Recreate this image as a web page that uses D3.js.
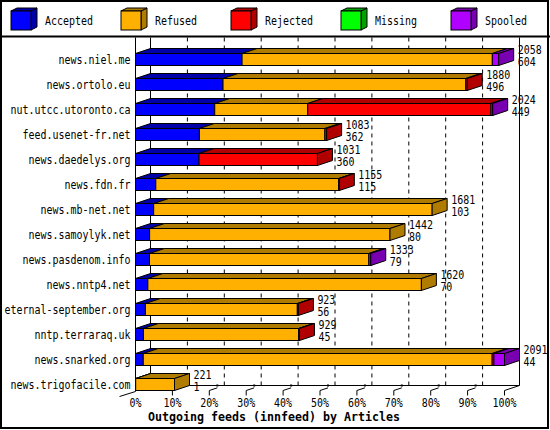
<!DOCTYPE html>
<meta charset="utf-8">
<script src="https://cdn.jsdelivr.net/npm/d3@7/dist/d3.min.js"></script>
<style>
body { margin: 0; background: #fff; }
text {
  fill: #000;
  font-family: "DejaVu Sans Mono", monospace;
  font-size: 11.5px;
}
.title { font-weight: bold; font-size: 12px; }
</style>
<body>
<script>

// feeds, top to bottom
var feeds = ["news.niel.me", "news.ortolo.eu", "nut.utcc.utoronto.ca", "feed.usenet-fr.net",
  "news.daedelys.org", "news.fdn.fr", "news.mb-net.net", "news.samoylyk.net",
  "news.pasdenom.info", "news.nntp4.net", "eternal-september.org", "nntp.terraraq.uk",
  "news.snarked.org", "news.trigofacile.com"];

// articles per feed
var accepted = [604, 496, 449, 362, 360, 115, 103, 80, 79, 70, 56, 45, 44, 1];
var refused  = [1418, 1376, 527, 711, 0, 1036, 1578, 1362, 1243, 1550, 861, 879, 1977, 220];
var rejected = [0, 8, 1038, 10, 671, 4, 0, 0, 0, 0, 6, 5, 10, 0];
var missing  = [0, 0, 0, 0, 0, 0, 0, 0, 0, 0, 0, 0, 0, 0];
var spooled  = [36, 0, 10, 0, 0, 0, 0, 0, 11, 0, 0, 0, 60, 0];

var keys = ["Accepted", "Refused", "Rejected", "Missing", "Spooled"];
var pctTicks = [0, 10, 20, 30, 40, 50, 60, 70, 80, 90, 100];

var front = {Accepted: "#0000ff", Refused: "#ffb000", Rejected: "#ff0000", Missing: "#00ff00", Spooled: "#b000ff"};
var dark  = {Accepted: "#0000a8", Refused: "#b07c00", Rejected: "#b00000", Missing: "#00a000", Spooled: "#7800b0"};

var width = 550, height = 430;
var DX = 15, DY = -5;      // bar depth
var CH = 6;                // char width of the bitmap-like font

var rows = feeds.map(function(f, i) {
  return {feed: f, Accepted: accepted[i], Refused: refused[i], Rejected: rejected[i],
          Missing: missing[i], Spooled: spooled[i]};
});
rows.forEach(function(r) { r.total = d3.sum(keys, function(k) { return r[k]; }); });

var stacked = d3.stack().keys(keys)(rows);

var x = d3.scaleLinear().domain([0, d3.max(rows, function(r) { return r.total; })]).range([135, 504]);
var pct = d3.scaleLinear().domain([0, 100]).range([135, 504]);
var y = d3.scaleBand().domain(feeds).range([46.5, 396.5]).paddingInner(0.52).paddingOuter(0.26);
var bh = y.bandwidth();

var svg = d3.select("body").append("svg")
    .attr("width", width)
    .attr("height", height);

function fitText(sel, w) {
  sel.attr("textLength", function() { return this.textContent.length * w; })
     .attr("lengthAdjust", "spacingAndGlyphs");
}

// frame and legend separator
svg.append("rect").attr("x", 1).attr("y", 1).attr("width", 547).attr("height", 427)
    .attr("fill", "#fff").attr("stroke", "#000").attr("stroke-width", 2);
svg.append("line").attr("x1", 0).attr("x2", 550).attr("y1", 36.5).attr("y2", 36.5)
    .attr("stroke", "#000").attr("stroke-width", 2);

// legend
var leg = svg.append("g").selectAll("g").data(keys).enter().append("g")
    .attr("transform", function(d, i) { return "translate(" + (11 + 110 * i) + ",11)"; });
leg.append("polygon")
    .attr("points", "20,0 26,-3 26,16 20,19")
    .attr("fill", function(d) { return dark[d]; })
    .attr("stroke", "#000");
leg.append("polygon")
    .attr("points", "0,0 6,-3 26,-3 20,0")
    .attr("fill", function(d) { return dark[d]; })
    .attr("stroke", "#000");
leg.append("rect")
    .attr("width", 20).attr("height", 19)
    .attr("fill", function(d) { return front[d]; })
    .attr("stroke", "#000");
leg.append("text")
    .attr("x", 34).attr("y", 14)
    .text(function(d) { return d; })
    .call(fitText, CH);

var plot = svg.append("g").attr("transform", "translate(0.5,0.5)");
var floorY = 390 + DY, topY = 37;

// back wall grid
plot.append("g").selectAll("line").data(pctTicks.slice(1, -1)).enter().append("line")
    .attr("x1", function(d) { return pct(d) + DX; })
    .attr("x2", function(d) { return pct(d) + DX; })
    .attr("y1", topY).attr("y2", floorY)
    .attr("stroke", "#000").attr("stroke-dasharray", "4,4");

plot.append("path")
    .attr("d", "M" + (pct(0) + DX) + "," + topY + "V" + floorY + "H" + (pct(100) + DX) + "V" + topY)
    .attr("fill", "none").attr("stroke", "#000");

// left axis and its depth stroke
plot.append("path")
    .attr("d", "M135," + topY + "V391L119,396")
    .attr("fill", "none").attr("stroke", "#000");

// 3D ticks on the floor
var tk = plot.append("g").selectAll("g").data(pctTicks.slice(1)).enter().append("g");
tk.append("path")
    .attr("d", function(d) {
      var px = pct(d);
      var len = d == 100 ? DX : 8;
      return "M" + px + ",395V390L" + (px + len) + "," + (390 - len / 3);
    })
    .attr("fill", "none").attr("stroke", "#000");
tk.filter(function(d) { return d < 100; }).append("rect")
    .attr("x", function(d) { return pct(d) + 7; }).attr("y", 384)
    .attr("width", 2).attr("height", 2).attr("fill", "#000");

plot.append("g").selectAll("text").data(pctTicks).enter().append("text")
    .attr("x", function(d) { return pct(d); })
    .attr("y", 406)
    .attr("text-anchor", "middle")
    .text(function(d) { return d + "%"; })
    .call(fitText, CH);

// bars: front + top faces per segment
stacked.forEach(function(layer) {
  var g = plot.append("g");
  var seg = g.selectAll("g").data(layer.filter(function(d) { return d[1] > d[0]; })).enter().append("g");
  seg.append("polygon")
      .attr("points", function(d) {
        var a = x(d[0]), b = x(d[1]), t = y(d.data.feed);
        return [[a, t], [a + DX, t + DY], [b + DX, t + DY], [b, t]].join(" ");
      })
      .attr("fill", dark[layer.key]).attr("stroke", "#000");
  seg.append("rect")
      .attr("x", function(d) { return x(d[0]); })
      .attr("y", function(d) { return y(d.data.feed); })
      .attr("width", function(d) { return x(d[1]) - x(d[0]); })
      .attr("height", bh)
      .attr("fill", front[layer.key]).attr("stroke", "#000");
});

// end caps use the colour of the last segment
plot.append("g").selectAll("polygon").data(rows).enter().append("polygon")
    .attr("points", function(r) {
      var b = x(r.total), t = y(r.feed);
      return [[b, t], [b + DX, t + DY], [b + DX, t + bh + DY], [b, t + bh]].join(" ");
    })
    .attr("fill", function(r) {
      var last = keys.filter(function(k) { return r[k] > 0; }).pop();
      return dark[last];
    })
    .attr("stroke", "#000");

// feed names
plot.append("g").selectAll("text").data(rows).enter().append("text")
    .attr("x", 130)
    .attr("y", function(r) { return y(r.feed) + 10.5; })
    .attr("text-anchor", "end")
    .text(function(r) { return r.feed; })
    .call(fitText, CH);

// total / accepted labels
var lab = plot.append("g").selectAll("g").data(rows).enter().append("g");
lab.append("text")
    .attr("x", function(r) { return x(r.total) + DX + 4; })
    .attr("y", function(r) { return y(r.feed) + 0.5; })
    .text(function(r) { return r.total; })
    .call(fitText, CH);
lab.append("text")
    .attr("x", function(r) { return x(r.total) + DX + 4; })
    .attr("y", function(r) { return y(r.feed) + bh + 0.5; })
    .text(function(r) { return r.Accepted; })
    .call(fitText, CH);

svg.append("text")
    .attr("class", "title")
    .attr("x", 148).attr("y", 421)
    .text("Outgoing feeds (innfeed) by Articles")
    .call(fitText, 7);

</script>
</body>
</html>
